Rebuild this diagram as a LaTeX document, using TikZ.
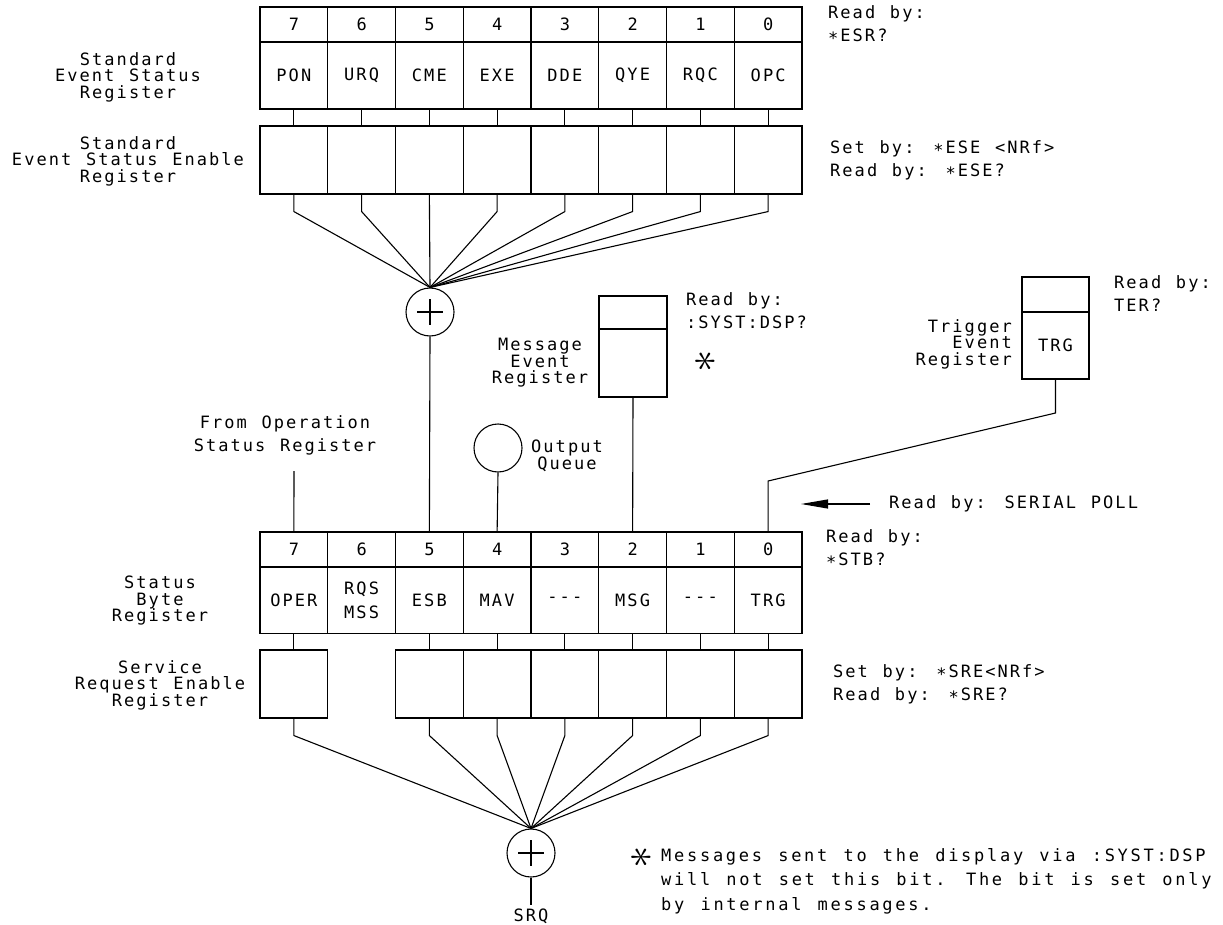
\documentclass[tikz,border=0pt]{standalone}
\usepackage{fontspec}
\usetikzlibrary{arrows.meta}
\newfontfamily\cadfont[LetterSpace=12,WordSpace=1.2]{DejaVu Sans Mono}
\newfontfamily\cadwide[LetterSpace=16,WordSpace=1.25]{DejaVu Sans Mono}
\newcommand\celltxt{\cadfont\fontsize{17}{24}\selectfont}
\newcommand\lbltxt{\cadfont\fontsize{17}{16.5}\selectfont}
\newcommand\notetxt{\cadfont\fontsize{17}{23}\selectfont}
\newcommand\foottxt{\cadwide\fontsize{17}{24.5}\selectfont}
\newcommand\lowstar{\raisebox{-3pt}{*}\kern2pt}
\tikzset{
  reg/.style={draw, line width=1.1pt, minimum width=67.75pt, inner sep=0pt, font=\celltxt, align=center},
  numcell/.style={reg, minimum height=35pt},
  namecell/.style={reg, minimum height=67pt},
  encell/.style={reg, minimum height=68pt},
  lbl/.style={font=\lbltxt, align=center, inner sep=0pt},
  note/.style={font=\notetxt, align=left, inner sep=0pt, anchor=west},
  conn/.style={line width=1.1pt},
  sumnode/.style={circle, draw, line width=1.1pt, minimum size=48pt, inner sep=0pt},
  star/.style={rotate=90, scale=1.8, inner sep=0pt, font=\fontsize{24}{24}\selectfont},
}
\begin{document}
\begin{tikzpicture}[x=1pt,y=-1pt]
\fill[white] (0,0) rectangle (1223,925);
\path[use as bounding box] (0,0) rectangle (1223,925);

% Standard Event Status Register and Enable Register
\foreach \b/\n [count=\i from 0] in {7/PON,6/URQ,5/CME,4/EXE,3/DDE,2/QYE,1/RQC,0/OPC}{
  \pgfmathsetmacro\cx{260+67.75*(\i+0.5)}
  \node[numcell] (esrn\b) at (\cx,24.5) {\b};
  \node[namecell] (esr\b) at (\cx,75.5) {\n};
  \node[encell] (ese\b) at (\cx,160) {};
  \draw[conn] (esr\b.south) -- (ese\b.north);
}
\node[lbl] (esrlbl) at (128,77) {Standard\\Event Status\\Register};
\node[lbl] (eselbl) at (128,161) {Standard\\Event Status Enable\\Register};
\node[note] (esrnote) at (828,25) {Read by:\\\lowstar ESR?};
\node[note] (esenote) at (830,160) {Set by: \lowstar ESE <NRf>\\Read by: \lowstar ESE?};

% summing node 1
\node[sumnode] (sum1) at (430,312) {};
\draw[conn] (sum1.center) ++(-13,0) -- ++(26,0);
\draw[conn] (sum1.center) ++(0,-13) -- ++(0,26);
\foreach \b in {7,6,4,3,2,1,0}{
  \draw[conn] (ese\b.south) -- ++(0,17) -- (sum1.north);
}
\draw[conn] (ese5.south) -- (sum1.north);

% Message Event Register
\node[reg, minimum width=68pt, minimum height=33pt] (mert) at (633,312.5) {};
\node[reg, minimum width=68pt, minimum height=68pt] (mer) at (633,363) {};
\node[lbl] (merlbl) at (540,363) {Message\\Event\\Register};
\node[note] (mernote) at (686,311) {Read by:\\:SYST:DSP?};
\node[star] (merstar) at (706,361) {$\ast$};

% Trigger Event Register
\node[reg, minimum width=67pt, minimum height=35pt] (tert) at (1055.5,294.5) {};
\node[reg, minimum width=67pt, minimum height=67pt] (ter) at (1055.5,345.5) {TRG};
\node[lbl, align=right, anchor=east] (terlbl) at (1012,344) {Trigger\\Event\\Register};
\node[note] (ternote) at (1114,294) {Read by:\\TER?};

% Output queue and operation status
\node[circle, draw, line width=1.1pt, minimum size=48pt, inner sep=0pt] (oq) at (498,448) {};
\node[lbl] (oqlbl) at (567,456) {Output\\Queue};
\node[font=\notetxt, align=center, inner sep=0pt] (oplbl) at (285,435) {From Operation\\Status Register};
\coordinate (fromop) at (294,471);

% Status Byte Register and Service Request Enable Register
\node[sumnode] (sum2) at (531,853) {};
\draw[conn] (sum2.center) ++(-13,0) -- ++(26,0);
\draw[conn] (sum2.center) ++(0,-13) -- ++(0,26);
\foreach \b/\n [count=\i from 0] in {7/OPER,6/{RQS\\MSS},5/ESB,4/MAV,3/-{}-{}-,2/MSG,1/-{}-{}-,0/TRG}{
  \pgfmathsetmacro\cx{260+67.75*(\i+0.5)}
  \node[numcell] (stbn\b) at (\cx,549.5) {\b};
  \node[namecell] (stb\b) at (\cx,600) {\n};
  \ifnum\b=6\else
    \node[encell] (sre\b) at (\cx,684) {};
    \draw[conn] (stb\b.south) -- (sre\b.north);
    \draw[conn] (sre\b.south) -- ++(0,17) -- (sum2.north);
  \fi
}
\node[lbl] (stblbl) at (160,601) {Status\\Byte\\Register};
\node[lbl] (srelbl) at (160,685) {Service\\Request Enable\\Register};
\node[note] (stbnote) at (826,549) {Read by:\\\lowstar STB?};
\node[note] (srenote) at (833,684) {Set by: \lowstar SRE<NRf>\\Read by: \lowstar SRE?};

% connections into the status byte
\draw[conn] (fromop) -- (stbn7.north);
\draw[conn] (sum1.south) -- (stbn5.north);
\draw[conn] (oq.south) -- (stbn4.north);
\draw[conn] (mer.south) -- (stbn2.north);
\coordinate (tbend1) at (1055.5,413);
\coordinate (tbend2) at (768.1,481);
\draw[conn] (ter.south) -- (tbend1) -- (tbend2) -- (stbn0.north);

% serial poll arrow
\coordinate (sptail) at (870,504);
\coordinate (sptip) at (801,504);
\draw[conn, -{Triangle[length=27pt,width=9pt]}] (sptail) -- (sptip);
\node[note] (spnote) at (889,504) {Read by: SERIAL POLL};

% SRQ
\node[font=\celltxt, inner sep=0pt] (srq) at (531,916) {SRQ};
\draw[conn] (sum2.south) -- ++(0,27);

% footnote
\node[star] (footstar) at (642,857) {$\ast$};
\node[font=\foottxt, align=left, anchor=west, inner sep=0pt] (foot) at (661,881) {Messages sent to the display via :SYST:DSP\\will not set this bit. The bit is set only\\by internal messages.};
\end{tikzpicture}
\end{document}
